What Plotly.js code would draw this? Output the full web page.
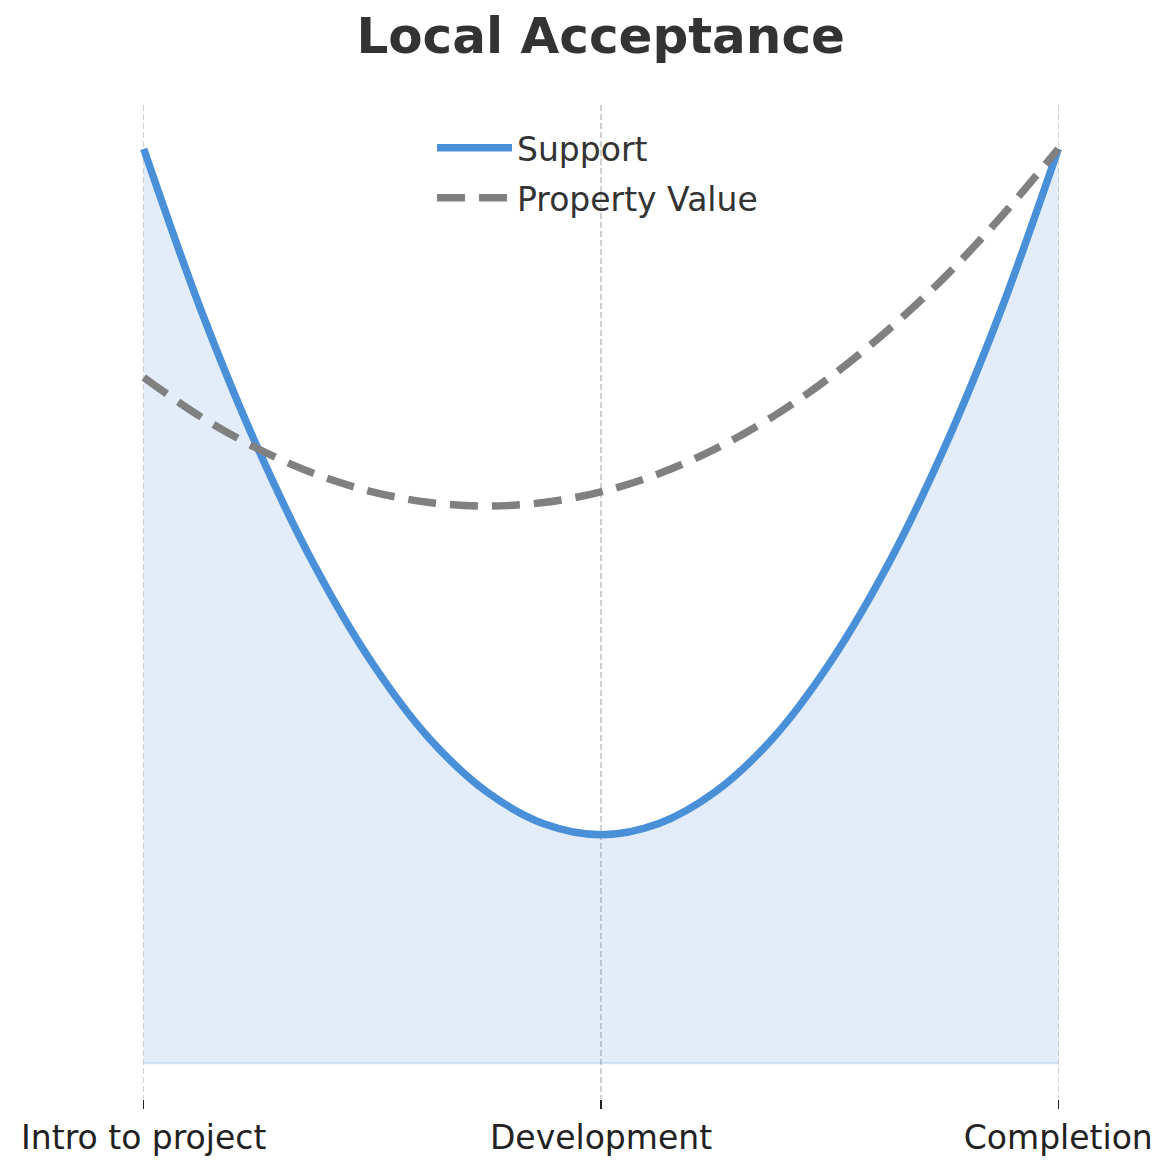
<!DOCTYPE html>
<html>
<head>
<meta charset="utf-8">
<script src="https://cdn.plot.ly/plotly-3.0.1.min.js"></script>
<style>html,body{margin:0;padding:0;background:#fff;}#chart{width:1171px;height:1172px;}</style>
</head>
<body>
<div id="chart"></div>
<script>
// Stage positions and labels
const stagePositions = [0, 1, 2];
const stageLabels = ["Intro to project", "Development", "Completion"];

// Points
const xPoints = [0, 0.125, 0.25, 0.375, 0.5, 0.625, 0.75, 0.875, 1, 1.125, 1.25, 1.375, 1.5, 1.625, 1.75, 1.875, 2];
const supportValues = [1.0, 0.824, 0.672, 0.543, 0.4375, 0.355, 0.297, 0.262, 0.25, 0.262, 0.297, 0.355, 0.4375, 0.543, 0.672, 0.824, 1.0];
const propertyValues = [0.75, 0.707, 0.672, 0.6445, 0.625, 0.6133, 0.6094, 0.6133, 0.625, 0.6445, 0.672, 0.707, 0.75, 0.8008, 0.859, 0.9258, 1.0];

const blue = "#4A90D9";
const gray = "#808080";
const font = "DejaVu Sans, Verdana, sans-serif";

const traces = [
  {
    x: xPoints, y: supportValues, type: "scatter", mode: "lines",
    line: {shape: "spline", width: 0, color: "rgba(74,144,217,0)"},
    fill: "tozeroy", fillcolor: "rgba(74,144,217,0.16)",
    showlegend: false, hoverinfo: "skip"
  },
  {
    x: [xPoints[0], xPoints[xPoints.length - 1]], y: [0, 0], type: "scatter", mode: "lines",
    line: {width: 2, color: "rgba(74,144,217,0.22)"},
    showlegend: false, hoverinfo: "skip"
  },
  {
    x: xPoints, y: supportValues, type: "scatter", mode: "lines", name: "Support",
    legendgroup: "a",
    line: {shape: "spline", width: 7.5, color: blue}
  },
  {
    x: xPoints, y: propertyValues, type: "scatter", mode: "lines", name: "Property Value",
    legendgroup: "b",
    line: {shape: "spline", width: 7.5, color: gray, dash: "28px,14px"}
  }
];

const layout = {
  width: 1171, height: 1172,
  margin: {l: 98, r: 67, t: 105, b: 73},
  paper_bgcolor: "#fff", plot_bgcolor: "#fff",
  font: {family: font, color: "#222"},
  title: {
    text: "<b>Local Acceptance</b>",
    font: {family: font, size: 50, color: "#333"},
    x: 0.513, xanchor: "center", yref: "container", y: 0.970, yanchor: "middle"
  },
  xaxis: {
    range: [-0.1, 2.1],
    tickmode: "array", tickvals: stagePositions, ticktext: stageLabels,
    tickfont: {family: font, size: 33, color: "#222"},
    ticks: "outside", ticklen: 9, tickwidth: 1.5, tickcolor: "#222",
    showgrid: true, gridcolor: "#d0d0d0", gridwidth: 1.2, griddash: "6px,3px",
    zeroline: false, showline: false
  },
  yaxis: {
    range: [-0.039, 1.048],
    showgrid: false, zeroline: false, showline: false, showticklabels: false, ticks: ""
  },
  legend: {
    x: 0.332, xanchor: "left", y: 0.985, yanchor: "top",
    bgcolor: "rgba(255,255,255,0)",
    font: {family: font, size: 33, color: "#333"},
    itemwidth: 75, tracegroupgap: 4
  },
  hovermode: false,
  showlegend: true
};

Plotly.newPlot("chart", traces, layout, {staticPlot: true, displayModeBar: false});
</script>
</body>
</html>
